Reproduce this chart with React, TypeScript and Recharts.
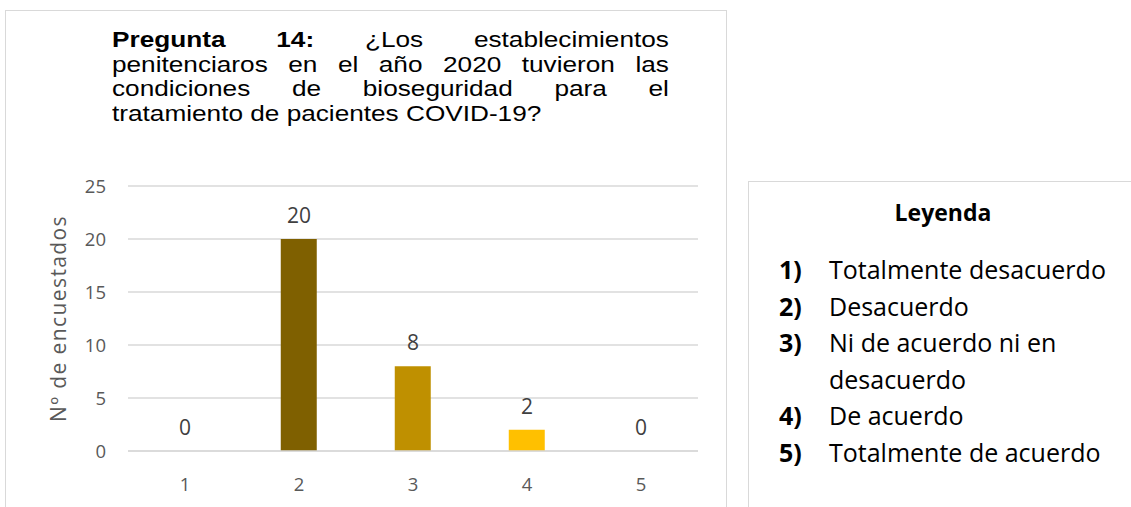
import { ComposedChart, Bar, Line, XAxis, YAxis, CartesianGrid, Cell, LabelList } from 'recharts';

const categories = ['1', '2', '3', '4', '5'];
const respondents = [0, 20, 8, 2, 0];
const barColors = ['#A5A5A5', '#7F6000', '#BF9000', '#FFC000', '#FFD966'];
const yTicks = [0, 5, 10, 15, 20, 25];

const titleLines = [
  'penitenciaros en el año 2020 tuvieron las',
  'condiciones de bioseguridad para el',
];
const lastTitleLine = 'tratamiento de pacientes COVID-19?';

const legendItems = [
  { num: '1)', text: 'Totalmente desacuerdo' },
  { num: '2)', text: 'Desacuerdo' },
  { num: '3)', text: 'Ni de acuerdo ni en' },
  { num: '', text: 'desacuerdo' },
  { num: '4)', text: 'De acuerdo' },
  { num: '5)', text: 'Totalmente de acuerdo' },
];

const data = categories.map((c, i) => ({ cat: c, value: respondents[i] }));

const tickStyle = { fontFamily: "'Open Sans', sans-serif", fontSize: 18.5, fill: '#595959' };

const justifyLine = { textAlign: 'justify' as const, textAlignLast: 'justify' as const, whiteSpace: 'nowrap' as const };

const App = () => (
  <div
    style={{
      position: 'absolute',
      left: 0,
      top: 0,
      width: 1131,
      height: 507,
      overflow: 'hidden',
      background: '#fff',
    }}
  >
    {/* chart frame */}
    <div
      style={{
        position: 'absolute',
        left: 5,
        top: 10,
        width: 722,
        height: 520,
        border: '1px solid #d9d9d9',
        boxSizing: 'border-box',
      }}
    />

    {/* title */}
    <div
      style={{
        position: 'absolute',
        left: 112,
        top: 28.4,
        width: 468,
        transform: 'scaleX(1.19)',
        transformOrigin: 'left top',
        fontFamily: "'Liberation Sans', Arial, sans-serif",
        fontSize: 22,
        lineHeight: '24.5px',
        color: '#000',
      }}
    >
      <div style={justifyLine}>
        <b>Pregunta 14:</b> ¿Los establecimientos
      </div>
      {titleLines.map((l) => (
        <div key={l} style={justifyLine}>
          {l}
        </div>
      ))}
      <div style={{ whiteSpace: 'nowrap' }}>{lastTitleLine}</div>
    </div>

    <div style={{ position: 'absolute', left: 0, top: 0 }}>
      <ComposedChart
        width={728}
        height={507}
        data={data}
        margin={{ top: 186, right: 30, bottom: 26, left: 0 }}
        barCategoryGap="34%"
      >
        <CartesianGrid vertical={false} stroke="#d9d9d9" strokeWidth={1.5} />
        <XAxis
          dataKey="cat"
          height={30}
          tickLine={false}
          tickSize={0}
          tickMargin={27}
          axisLine={{ stroke: '#d9d9d9', strokeWidth: 1.5 }}
          tick={tickStyle}
        />
        <YAxis
          width={128}
          domain={[0, 25]}
          ticks={yTicks}
          interval={0}
          tickLine={false}
          axisLine={false}
          tickSize={0}
          tickMargin={22}
          tick={tickStyle}
          label={{
            content: (props: any) => {
              const vb = props.viewBox || { y: 186, height: 265 };
              const cy = vb.y + vb.height / 2;
              return (
                <text
                  x={58}
                  y={cy}
                  transform={`rotate(-90, 58, ${cy})`}
                  textAnchor="middle"
                  dominantBaseline="central"
                  fontFamily="'Open Sans', sans-serif"
                  fontSize={21}
                  letterSpacing={1.4}
                  fill="#595959"
                >
                  Nº de encuestados
                </text>
              );
            },
          }}
        />
        <Bar dataKey="value" isAnimationActive={false}>
          {data.map((d, i) => (
            <Cell key={d.cat} fill={barColors[i]} />
          ))}
        </Bar>
        {/* invisible series carrying the value labels (so zeros get one too) */}
        <Line
          dataKey="value"
          stroke="none"
          dot={false}
          activeDot={false}
          legendType="none"
          isAnimationActive={false}
        >
          <LabelList
            dataKey="value"
            position="top"
            offset={16}
            style={{ fontFamily: "'Open Sans', sans-serif", fontSize: 21, fill: '#404040' }}
          />
        </Line>
      </ComposedChart>
    </div>

    {/* legend box */}
    <div
      style={{
        position: 'absolute',
        left: 748,
        top: 181,
        width: 420,
        height: 400,
        border: '1px solid #d9d9d9',
        boxSizing: 'border-box',
        fontFamily: "'Open Sans', sans-serif",
        color: '#000',
      }}
    >
      <div
        style={{
          position: 'absolute',
          left: 0,
          width: 388,
          top: 15,
          textAlign: 'center',
          fontWeight: 700,
          fontSize: 23,
          lineHeight: '30px',
        }}
      >
        Leyenda
      </div>
      <div style={{ position: 'absolute', left: 0, top: 69, fontSize: 25, lineHeight: '36.6px' }}>
        {legendItems.map((it, i) => (
          <div key={i} style={{ position: 'relative', height: 36.6, whiteSpace: 'nowrap' }}>
            <span style={{ position: 'absolute', left: 30, fontWeight: 700 }}>{it.num}</span>
            <span style={{ position: 'absolute', left: 80 }}>{it.text}</span>
          </div>
        ))}
      </div>
    </div>
  </div>
);

export default App;
